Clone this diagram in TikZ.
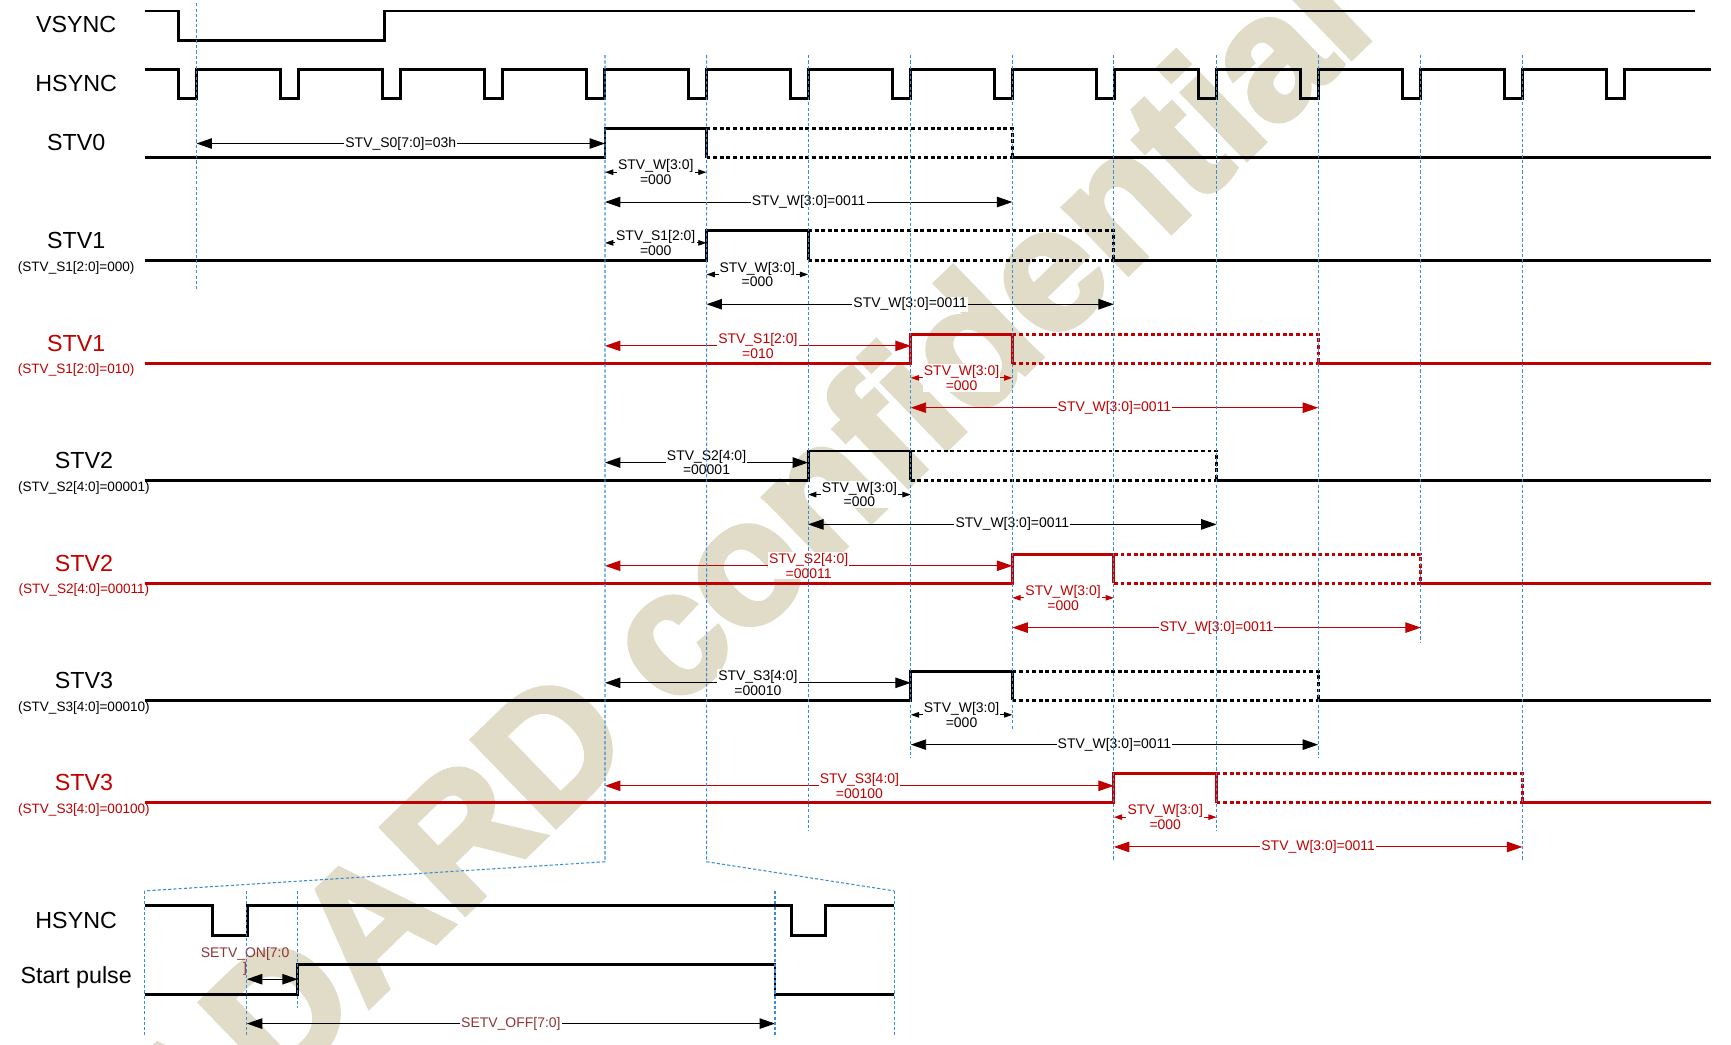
\documentclass[tikz,border=0pt]{standalone}
\usepackage{fontspec}
\setmainfont{Liberation Sans}
\newfontfamily\wmfont{Liberation Sans}[FakeBold=3]
\usetikzlibrary{arrows.meta}
\definecolor{stvred}{RGB}{192,0,0}
\definecolor{gridblue}{RGB}{58,140,212}
\definecolor{setvbrown}{RGB}{140,52,52}
\definecolor{wmark}{RGB}{224,220,200}
\tikzset{
  sig/.style={line width=1.5pt},
  ghost/.style={line width=1.5pt, dash pattern=on 2pt off 1.4pt},
  guide/.style={gridblue, line width=0.55pt, dash pattern=on 1.6pt off 1.1pt},
  span/.style={line width=0.5pt, {Triangle[length=0.28cm,width=0.19cm]}-{Triangle[length=0.28cm,width=0.19cm]}},
  tick/.style={line width=0.5pt, {Triangle[length=0.15cm,width=0.1cm]}-{Triangle[length=0.15cm,width=0.1cm]}},
  tag/.style={fill=white, inner sep=0.6pt, font=\fontsize{7.2}{7.6}\selectfont, align=center},
  lab/.style={font=\fontsize{12}{14}\selectfont},
  sublab/.style={font=\fontsize{7}{8}\selectfont}
}
\begin{document}
\begin{tikzpicture}[x=0.02cm, y=-0.02cm]
\useasboundingbox (0,0) rectangle (1568,946);
% watermark
\node[rotate=44, text=wmark, font=\fontsize{90}{90}\wmfont\bfseries] (wm) at (637,541) {JADARD confidential};

% signal names
\node[lab] (vsync) at (69,22.6) {VSYNC};
\node[lab] (hsync) at (69,75.5) {HSYNC};
\node[lab] (stv0) at (69,129) {STV0};
\node[lab] (stv1) at (69,217.5) {STV1};
\node[sublab] (stv1s) at (69,242.6) {(STV\_S1[2:0]=000)};
\node[lab, stvred] (stv1r) at (69,311) {STV1};
\node[sublab, stvred] (stv1rs) at (69,335) {(STV\_S1[2:0]=010)};
\node[lab] (stv2) at (76,416.7) {STV2};
\node[sublab] (stv2s) at (76,442) {(STV\_S2[4:0]=00001)};
\node[lab, stvred] (stv2r) at (76,510.4) {STV2};
\node[sublab, stvred] (stv2rs) at (76,534.5) {(STV\_S2[4:0]=00011)};
\node[lab] (stv3) at (76,616) {STV3};
\node[sublab] (stv3s) at (76,641) {(STV\_S3[4:0]=00010)};
\node[lab, stvred] (stv3r) at (76,709) {STV3};
\node[sublab, stvred] (stv3rs) at (76,733.8) {(STV\_S3[4:0]=00100)};
\node[lab] (hsyncz) at (69,834) {HSYNC};
\node[lab] (start) at (69,885.5) {Start pulse};

% vsync, hsync
\draw[sig] (131,10) -- (162,10) -- (162,36.6) -- (348,36.6) -- (348,10) -- (1535,10);
\draw[sig] (131,63) foreach \k in {0,...,14} {-- (162+92.4*\k,63) -- (162+92.4*\k,89) -- (178+92.4*\k,89) -- (178+92.4*\k,63)} -- (1550,63);

% stv rows: colour / low level / rise / fall / end of dashed width
\foreach \c/\y/\a/\b/\e in {black/143/548/640/917, black/235.6/640/732/1009, stvred/329.3/825/917/1194, black/435/732/825/1102, stvred/528.5/917/1009/1287, black/634.5/825/917/1194, stvred/727.2/1009/1102/1379}{
  \draw[sig,\c] (131,\y) -- (\a,\y) -- (\a,\y-26.5) -- (\b,\y-26.5) -- (\b,\y);
  \draw[ghost,\c] (\b,\y-26.5) -- (\e,\y-26.5) -- (\e,\y);
  \draw[ghost,\c] (\b,\y) -- (\e,\y);
  \draw[sig,\c] (\e,\y) -- (1550,\y);
  \draw[tick,\c] (\a,\y+13) -- node[tag]{STV\_W[3:0]\\=000} (\b,\y+13);
  \draw[span,\c] (\a,\y+40) -- node[tag]{STV\_W[3:0]=0011} (\e,\y+40);
}

% start delays
\draw[span] (178,130) -- node[tag]{STV\_S0[7:0]=03h} (548,130);
\draw[tick] (548,220) -- node[tag]{STV\_S1[2:0]\\=000} (640,220);
\foreach \c/\y/\a/\n/\v in {stvred/313.3/825/{1[2:0]}/010, black/419/732/{2[4:0]}/00001, stvred/512.5/917/{2[4:0]}/00011, black/618.5/825/{3[4:0]}/00010, stvred/711.8/1009/{3[4:0]}/00100}
  \draw[span,\c] (548,\y) -- node[tag]{STV\_S\n\\=\v} (\a,\y);

% zoomed start pulse
\draw[sig] (131,820.5) -- (192.5,820.5) -- (192.5,847) -- (224,847) -- (224,820.5) -- (717,820.5) -- (717,847) -- (748,847) -- (748,820.5) -- (810,820.5);
\draw[sig] (131,900.6) -- (269.7,900.6) -- (269.7,874) -- (702,874) -- (702,900.6) -- (810,900.6);
\draw[span] (223.6,887) -- (269.7,887);
\node[font=\fontsize{7.2}{6.6}\selectfont, text=setvbrown, align=center, inner sep=0pt] (seton) at (222,871) {SETV\_ON[7:0\\]};
\draw[span] (223.6,927.2) -- node[tag, text=setvbrown]{SETV\_OFF[7:0]} (702,927.2);

% hsync guides
\draw[guide] (178,3) -- (178,263);
\foreach \x/\e in {732/753, 825/687, 917/661, 1009/780, 1102/753, 1194/687, 1287/582, 1379/780}
  \draw[guide] (\x,50) -- (\x,\e);
\draw[guide] (548,50) -- (548,780.6) -- (131,807);
\draw[guide] (640,50) -- (640,780.6) -- (810,807);
\foreach \x/\e in {131/939, 223.6/939, 269.7/913, 702/939, 810/939}
  \draw[guide] (\x,807) -- (\x,\e);
\end{tikzpicture}
\end{document}
